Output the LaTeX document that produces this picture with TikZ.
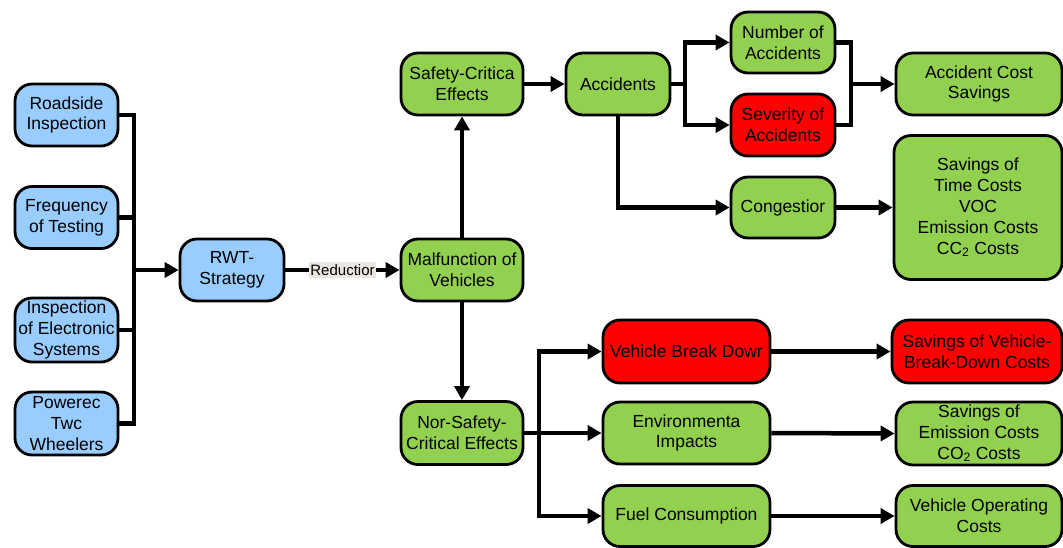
\documentclass[tikz,border=0pt]{standalone}
\usepackage{fontspec}
\setmainfont{Liberation Sans}
\usetikzlibrary{arrows.meta}

\definecolor{boxblue}{RGB}{153,204,255}
\definecolor{boxgreen}{RGB}{146,208,80}
\definecolor{boxred}{RGB}{255,0,0}
\definecolor{labelbg}{RGB}{234,231,225}

\tikzset{
  box/.style={draw=black, line width=2.8pt, rounded corners=17pt, inner sep=0pt,
    align=center, font=\fontsize{17.5}{20.8}\selectfont},
  bluebox/.style={box, fill=boxblue},
  greenbox/.style={box, fill=boxgreen},
  redbox/.style={box, fill=boxred},
  link/.style={line width=4.5pt, line join=miter},
  arrowlink/.style={link, -{Triangle[length=14pt,width=15pt]}},
  edgelabel/.style={fill=labelbg, inner xsep=1.5pt, inner ysep=2pt,
    font=\fontsize{15}{16}\selectfont}
}

\begin{document}
\begin{tikzpicture}[x=1pt, y=-1pt]
\useasboundingbox (0,0) rectangle (1063,547);

% measures feeding the strategy
\node[bluebox, minimum width=103pt, minimum height=62pt] (rs) at (66.5,115) {Roadside\\Inspection};
\node[bluebox, minimum width=103pt, minimum height=62pt] (ft) at (66.5,217.5) {Frequency\\of Testing};
\node[bluebox, minimum width=103pt, minimum height=64pt] (ie) at (66.5,330) {Inspection\\of Electronic\\Systems};
\node[bluebox, minimum width=103pt, minimum height=63pt] (pw) at (66.5,423.5) {Powerec\\Twc\\Wheelers};

\node[bluebox, minimum width=104pt, minimum height=62pt] (rwt) at (232,270) {RWT-\\Strategy};

% central chain
\node[greenbox, minimum width=122pt, minimum height=62pt] (mal) at (462,270) {Malfunction of\\Vehicles};
\node[greenbox, minimum width=122pt, minimum height=62pt] (safe) at (462,84) {Safety-Critica\\Effects};
\node[greenbox, minimum width=122pt, minimum height=63pt] (nsc) at (462,433) {Nor-Safety-\\Critical Effects};

% safety-critical branch
\node[greenbox, minimum width=104pt, minimum height=62pt] (acc) at (618,84) {Accidents};
\node[greenbox, minimum width=104pt, minimum height=61pt] (num) at (783,42.5) {Number of\\Accidents};
\node[redbox, minimum width=104pt, minimum height=62pt] (sev) at (783,125) {Severity of\\Accidents};
\node[greenbox, minimum width=104pt, minimum height=61pt] (cong) at (783,207.5) {Congestior};
\node[greenbox, minimum width=166pt, minimum height=62pt] (acs) at (979,84) {Accident Cost\\Savings};
\node[greenbox, minimum width=168pt, minimum height=144pt] (sav) at (978,207.5)
  {Savings of\\Time Costs\\VOC\\Emission Costs\\CC\textsubscript{2} Costs};

% non-safety-critical branch
\node[redbox, minimum width=167pt, minimum height=63pt] (vbd) at (686.5,351.5) {Vehicle Break Dowr};
\node[greenbox, minimum width=167pt, minimum height=62pt] (env) at (686.5,433) {Environmenta\\Impacts};
\node[greenbox, minimum width=167pt, minimum height=61pt] (fuel) at (686.5,516) {Fuel Consumption};
\node[redbox, minimum width=170pt, minimum height=63pt] (svbd) at (977,351.5) {Savings of Vehicle-\\Break-Down Costs};
\node[greenbox, minimum width=166pt, minimum height=63pt] (sem) at (979,433.5)
  {Savings of\\Emission Costs\\CO\textsubscript{2} Costs};
\node[greenbox, minimum width=166pt, minimum height=61pt] (voc) at (979,516) {Vehicle Operating\\Costs};

% junction points of the connectors
\coordinate (bus) at (134,270);
\coordinate (fork1) at (685,84);
\coordinate (join1) at (851,84);
\coordinate (fork2) at (539,433);

% left side collector
\draw[link] (rs.east) -| (bus) |- (pw.east);
\draw[link] (ft.east) -| (bus);
\draw[link] (ie.east) -| (bus);
\draw[arrowlink] (bus) -- (rwt.west);

\draw[arrowlink] (rwt.east) -- node[edgelabel] (red) {Reductior} (mal.west);
\draw[arrowlink] (mal.north) -- (safe.south);
\draw[arrowlink] (mal.south) -- (nsc.north);

% safety-critical connectors
\draw[arrowlink] (safe.east) -- (acc.west);
\draw[link] (acc.east) -- (fork1);
\draw[arrowlink] (fork1) |- (num.west);
\draw[arrowlink] (fork1) |- (sev.west);
\draw[link] (num.east) -| (join1) |- (sev.east);
\draw[arrowlink] (join1) -- (acs.west);
\draw[arrowlink] (acc.south) |- (cong.west);
\draw[arrowlink] (cong.east) -- (sav.west);

% non-safety-critical connectors
\draw[link] (nsc.east) -- (fork2);
\draw[arrowlink] (fork2) |- (vbd.west);
\draw[arrowlink] (fork2) -- (env.west);
\draw[arrowlink] (fork2) |- (fuel.west);
\draw[arrowlink] (vbd.east) -- (svbd.west);
\draw[arrowlink] (env.east) -- (sem.west);
\draw[arrowlink] (fuel.east) -- (voc.west);
\end{tikzpicture}
\end{document}
